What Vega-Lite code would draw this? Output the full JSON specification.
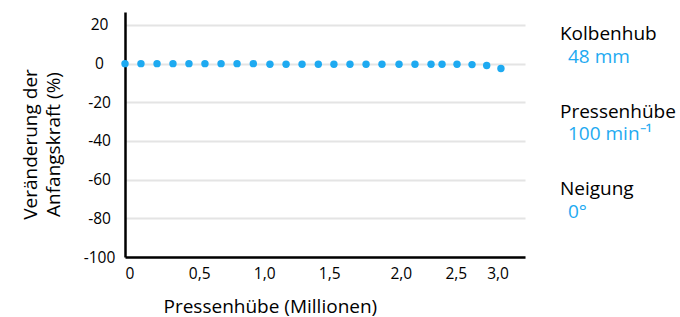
{
  "$schema": "https://vega.github.io/schema/vega-lite/v6.json",
  "autosize": {"type": "none"},
  "width": 400,
  "height": 245,
  "padding": {"left": 125, "top": 12, "right": 155, "bottom": 60},
  "background": "white",
  "config": {
    "view": {"stroke": null},
    "font": "Open Sans",
    "text": {"font": "Open Sans"}
  },
  "layer": [
    {
      "data": {
        "values": [
          {"hub": 0, "change": 0},
          {"hub": 0.126, "change": 0},
          {"hub": 0.253, "change": 0},
          {"hub": 0.379, "change": 0},
          {"hub": 0.505, "change": 0},
          {"hub": 0.628, "change": 0},
          {"hub": 0.752, "change": 0},
          {"hub": 0.875, "change": 0},
          {"hub": 1.0, "change": 0},
          {"hub": 1.128, "change": -0.3},
          {"hub": 1.252, "change": -0.3},
          {"hub": 1.375, "change": -0.3},
          {"hub": 1.5, "change": -0.3},
          {"hub": 1.609, "change": -0.3},
          {"hub": 1.721, "change": -0.3},
          {"hub": 1.833, "change": -0.3},
          {"hub": 1.944, "change": -0.3},
          {"hub": 2.082, "change": -0.3},
          {"hub": 2.227, "change": -0.3},
          {"hub": 2.373, "change": -0.3},
          {"hub": 2.473, "change": -0.3},
          {"hub": 2.644, "change": -0.3},
          {"hub": 2.824, "change": -0.5},
          {"hub": 3.0, "change": -1.0},
          {"hub": 3.171, "change": -2.5}
        ]
      },
      "mark": {"type": "point", "filled": true, "opacity": 1, "size": 55, "color": "#1eaaf1"},
      "encoding": {
        "x": {
          "field": "hub",
          "type": "quantitative",
          "scale": {
            "domain": [0, 0.5, 1, 1.5, 2, 2.5, 3, 3.46],
            "range": [0, 63.3, 128.3, 193.3, 265, 320, 361.7, 400],
            "nice": false,
            "zero": false
          },
          "axis": {
            "values": [0, 0.5, 1, 1.5, 2, 2.5, 3],
            "labelExpr": "datum.value == 0 ? '0' : replace(format(datum.value, '.1f'), '.', ',')",
            "grid": false,
            "ticks": false,
            "tickSize": 0,
            "domainColor": "black",
            "domainWidth": 2.5,
            "labelAlign": "left",
            "labelBaseline": "top",
            "labelPadding": 9,
            "labelFontSize": 15.5,
            "labelColor": "black",
            "labelFont": "Open Sans",
            "labelFlush": false,
            "labelOverlap": false,
            "title": "Pressenhübe (Millionen)",
            "titleFont": "Open Sans",
            "titleFontSize": 19,
            "titleFontWeight": "normal",
            "titleColor": "black",
            "titleAlign": "left",
            "titleBaseline": "alphabetic",
            "titleX": 38,
            "titleY": 55
          }
        },
        "y": {
          "field": "change",
          "type": "quantitative",
          "scale": {"domain": [-100, 26.7], "nice": false, "zero": false},
          "axis": {
            "values": [-100, -80, -60, -40, -20, 0, 20],
            "labelExpr": "replace(datum.label, '\u2212', '-')",
            "grid": true,
            "gridColor": "#e4e4e4",
            "gridWidth": 2,
            "ticks": false,
            "tickSize": 0,
            "domainColor": "black",
            "domainWidth": 2.5,
            "labelAlign": "center",
            "labelBaseline": "middle",
            "labelPadding": 26,
            "labelFontSize": 15.5,
            "labelColor": "black",
            "labelFont": "Open Sans",
            "title": ["Veränderung der", "Anfangskraft (%)"],
            "titleFont": "Open Sans",
            "titleFontSize": 19,
            "titleFontWeight": "normal",
            "titleColor": "black",
            "titleLineHeight": 23,
            "titleAngle": -90,
            "titleAlign": "center",
            "titleBaseline": "alphabetic",
            "titleX": -89,
            "titleY": 132
          }
        }
      }
    },
    {
      "data": {"values": [{"param": "Kolbenhub", "setting": "48 mm"}]},
      "layer": [
        {
          "mark": {"type": "text", "align": "left", "baseline": "alphabetic", "fontSize": 19, "color": "black"},
          "encoding": {
            "x": {"datum": 3.88, "type": "quantitative"},
            "y": {"datum": 12.2, "type": "quantitative"},
            "text": {"field": "param"}
          }
        },
        {
          "mark": {"type": "text", "align": "left", "baseline": "alphabetic", "fontSize": 19, "color": "#1eaaf1", "dx": 8, "dy": 23},
          "encoding": {
            "x": {"datum": 3.88, "type": "quantitative"},
            "y": {"datum": 12.2, "type": "quantitative"},
            "text": {"field": "setting"}
          }
        }
      ]
    },
    {
      "data": {"values": [{"param": "Pressenhübe", "setting": "100 min⁻¹"}]},
      "layer": [
        {
          "mark": {"type": "text", "align": "left", "baseline": "alphabetic", "fontSize": 19, "color": "black"},
          "encoding": {
            "x": {"datum": 3.88, "type": "quantitative"},
            "y": {"datum": -28.3, "type": "quantitative"},
            "text": {"field": "param"}
          }
        },
        {
          "mark": {"type": "text", "align": "left", "baseline": "alphabetic", "fontSize": 19, "color": "#1eaaf1", "dx": 8, "dy": 22},
          "encoding": {
            "x": {"datum": 3.88, "type": "quantitative"},
            "y": {"datum": -28.3, "type": "quantitative"},
            "text": {"field": "setting"}
          }
        }
      ]
    },
    {
      "data": {"values": [{"param": "Neigung", "setting": "0°"}]},
      "layer": [
        {
          "mark": {"type": "text", "align": "left", "baseline": "alphabetic", "fontSize": 19, "color": "black"},
          "encoding": {
            "x": {"datum": 3.88, "type": "quantitative"},
            "y": {"datum": -67.9, "type": "quantitative"},
            "text": {"field": "param"}
          }
        },
        {
          "mark": {"type": "text", "align": "left", "baseline": "alphabetic", "fontSize": 19, "color": "#1eaaf1", "dx": 8, "dy": 23},
          "encoding": {
            "x": {"datum": 3.88, "type": "quantitative"},
            "y": {"datum": -67.9, "type": "quantitative"},
            "text": {"field": "setting"}
          }
        }
      ]
    }
  ]
}
